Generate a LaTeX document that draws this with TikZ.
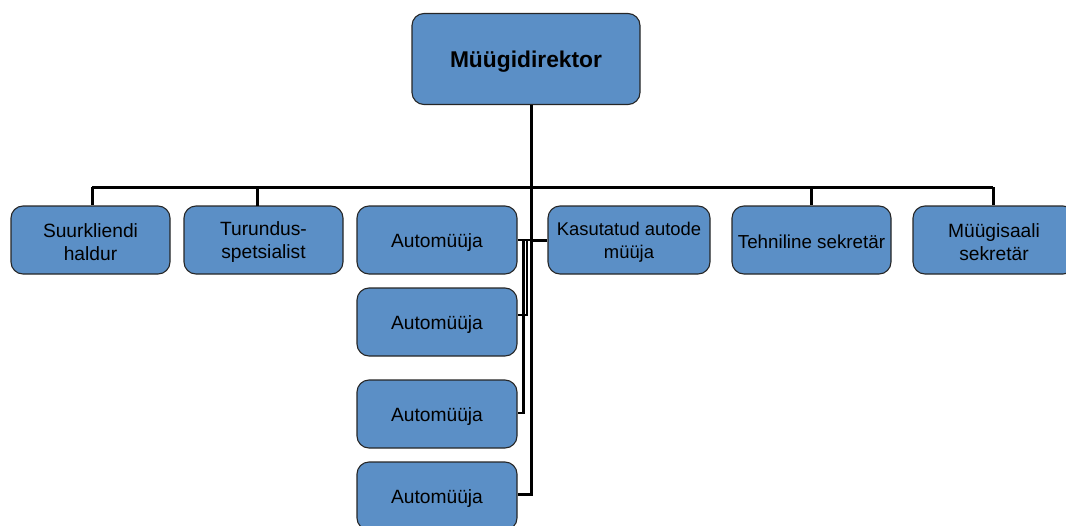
\documentclass[tikz,border=0pt]{standalone}
\usepackage{fontspec}
\setmainfont{Liberation Sans}
\begin{document}
\begin{tikzpicture}[x=1pt,y=-1pt,
  unit/.style={draw=black!85, line width=1.1pt, fill=boxblue, rounded corners=12pt,
    inner sep=0pt},
  txt/.style={align=center, inner sep=0pt, font=\fontsize{19.2}{23}\selectfont},
  link/.style={line width=3pt, black},
  branch/.style={line width=2.2pt, black}]
\definecolor{boxblue}{HTML}{5B8FC6}
\useasboundingbox (0,0) rectangle (1066,525);
\clip (0,0) rectangle (1066,525);
% director
\node[unit, minimum width=228pt, minimum height=91pt] (dir) at (526,59) {};
\node[txt, font=\fontsize{22.8}{26}\selectfont\bfseries] at ([yshift=-3pt]dir) {Müügidirektor};
% first level
\node[unit, minimum width=159pt, minimum height=68pt] (s1) at (90.5,240) {};
\node[unit, minimum width=159pt, minimum height=68pt] (s2) at (263.5,240) {};
\node[unit, minimum width=160pt, minimum height=68pt] (a1) at (437,240) {};
\node[unit, minimum width=160pt, minimum height=68pt] (a2) at (437,322) {};
\node[unit, minimum width=160pt, minimum height=68pt] (a3) at (437,414) {};
\node[unit, minimum width=160pt, minimum height=68pt] (a4) at (437,496) {};
\node[unit, minimum width=162pt, minimum height=68pt] (k) at (629,240) {};
\node[unit, minimum width=159pt, minimum height=68pt] (t) at (811.5,240) {};
\node[unit, minimum width=162pt, minimum height=68pt] (m) at (994,240) {};
% captions
\node[txt] at ([yshift=-2pt]s1) {Suurkliendi\\haldur};
\node[txt] at ([yshift=-2pt]s2) {Turundus-\\spetsialist};
\node[txt] at ([yshift=-3pt]a1) {Automüüja};
\node[txt] at ([yshift=-3pt]a2) {Automüüja};
\node[txt] at ([yshift=-3pt]a3) {Automüüja};
\node[txt] at ([yshift=-3pt]a4) {Automüüja};
\node[txt, font=\fontsize{18.4}{23}\selectfont] at ([yshift=-2pt]k) {Kasutatud autode\\müüja};
\node[txt, font=\fontsize{18.8}{23}\selectfont] at ([yshift=-2pt]t) {Tehniline sekretär};
\node[txt] at ([yshift=-2pt]m) {Müügisaali\\sekretär};
% bus and trunk
\coordinate (bus) at (531,187);
\coordinate (busL) at (92,187);
\coordinate (busR) at (993,187);
\coordinate (tb) at (531,240);
\coordinate (tend) at (531,494);
\draw[link] (dir.south -| tb) -- (bus);
\draw[link] (busL) -- (busR);
\draw[link] (busL) -- (busL |- s1.north);
\draw[link] (bus -| 257,0) -- (257,206);
\draw[link] (bus -| t) -- (t.north);
\draw[link] (busR) -- (busR |- m.north);
\draw[link] (bus) -- (tend) -- (a4.east |- tend);
\draw[link] (tb) -- (k.west);
% sales staff branches
\coordinate (ja) at (523.5,240);
\coordinate (jb) at (527.2,240);
\draw[branch] (a1.east) -- (tb);
\draw[branch] (ja) -- (523.5,413) -- (a3.east |- 0,413);
\draw[branch] (jb) -- (527.2,315) -- (a2.east |- 0,315);
\end{tikzpicture}
\end{document}
